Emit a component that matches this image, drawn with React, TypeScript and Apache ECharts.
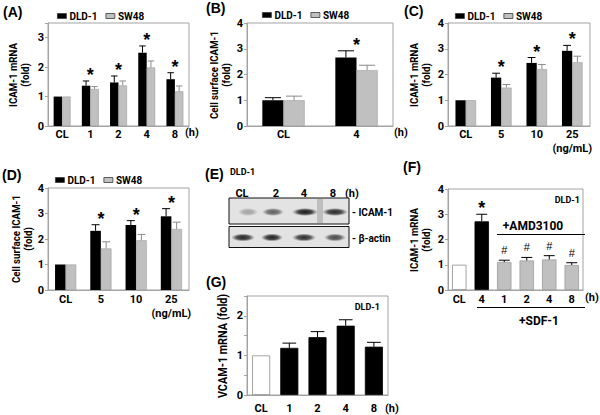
import React, { useEffect, useRef } from 'react';
import * as echarts from 'echarts';

// ---------- data ----------
const legendNames = ['DLD-1', 'SW48'];

// (A) ICAM-1 mRNA, time course (h)
const aCats = ['CL', '1', '2', '4', '8'];
const aDld = [1.0, 1.37, 1.48, 2.49, 1.59];
const aDldErr = [null, 1.53, 1.7, 2.72, 1.81];
const aSw = [1.0, 1.26, 1.38, 1.99, 1.18];
const aSwErr = [null, 1.34, 1.53, 2.21, 1.36];
const aSig = ['', '*', '*', '*', '*'];

// (B) Cell surface ICAM-1
const bCats = ['CL', '4'];
const bDld = [1.0, 2.66];
const bDldErr = [1.1, 2.92];
const bSw = [1.0, 2.17];
const bSwErr = [1.16, 2.36];
const bSig = ['', '*'];

// (C) ICAM-1 mRNA, dose (ng/mL)
const cCats = ['CL', '5', '10', '25'];
const cDld = [1.0, 1.88, 2.45, 2.92];
const cDldErr = [null, 2.05, 2.66, 3.13];
const cSw = [1.0, 1.49, 2.21, 2.48];
const cSwErr = [null, 1.61, 2.39, 2.71];
const cSig = ['', '*', '*', '*'];

// (D) Cell surface ICAM-1, dose (ng/mL)
const dCats = ['CL', '5', '10', '25'];
const dDld = [1.0, 2.32, 2.55, 2.89];
const dDldErr = [null, 2.56, 2.72, 3.19];
const dSw = [1.0, 1.63, 1.95, 2.39];
const dSwErr = [null, 1.89, 2.18, 2.66];
const dSig = ['', '*', '*', '*'];

// (E) western blot band intensities (0..1)
const blotLanes = ['CL', '2', '4', '8'];
const icamBand = [0.3, 0.62, 0.95, 0.88];
const actinBand = [0.9, 0.92, 0.86, 0.72];

// (F) ICAM-1 mRNA with AMD3100
const fCats = ['CL', '4', '1', '2', '4', '8'];
const fVals = [1.0, 2.72, 1.11, 1.17, 1.21, 0.99];
const fErr = [null, 3.0, 1.18, 1.29, 1.36, 1.08];
const fMarks = ['', '*', '#', '#', '#', '#'];

// (G) VCAM-1 mRNA
const gCats = ['CL', '1', '2', '4', '8'];
const gVals = [1.0, 1.19, 1.46, 1.75, 1.22];
const gErr = [null, 1.31, 1.6, 1.9, 1.33];

const unitH = '(h)';
const unitDose = '(ng/mL)';

// ---------- styles ----------
const FRAME = '#a3a3a3';
const FONT = 'Roboto';
const BLACK = '#000000';
const GRAY = '#c0c0c0';
const fColors = ['#ffffff', BLACK, GRAY, GRAY, GRAY, GRAY];
const gColors = ['#ffffff', BLACK, BLACK, BLACK, BLACK];

const grids = [
  { left: 48, top: 23, width: 141, height: 103 }, // A
  { left: 247, top: 23, width: 146, height: 103 }, // B
  { left: 448, top: 23, width: 142, height: 103 }, // C
  { left: 48, top: 188, width: 141, height: 102 }, // D
  { left: 448, top: 189, width: 135, height: 101 }, // F
  { left: 247, top: 296, width: 141, height: 101 }, // G
];

function yAx(gi: number, max: number, interval: number) {
  return {
    type: 'value',
    gridIndex: gi,
    min: 0,
    max,
    interval,
    axisLine: { show: true, lineStyle: { color: FRAME, width: 1 } },
    axisTick: { show: true, length: 3, lineStyle: { color: FRAME } },
    splitLine: { show: false },
    axisLabel: {
      color: '#000',
      fontFamily: FONT,
      fontWeight: 'bold',
      fontSize: 11,
      margin: 4,
      formatter: (v: number) => (Math.abs(v - Math.round(v)) < 1e-6 ? String(Math.round(v)) : ''),
    },
  };
}

function xAx(gi: number, cats: string[], margin: number, unitBelow?: string) {
  return {
    type: 'category',
    gridIndex: gi,
    data: cats,
    axisLine: { show: true, lineStyle: { color: FRAME, width: 1 } },
    axisTick: { show: false },
    axisLabel: {
      color: '#000',
      fontFamily: FONT,
      fontWeight: 'bold',
      fontSize: 11,
      margin,
      interval: 0,
      lineHeight: 14,
      formatter: (v: string, i: number) => (unitBelow && i === cats.length - 1 ? `${v}\n${unitBelow}` : v),
    },
  };
}

function markText(m: string, x: number, topY: number) {
  if (m === '*') {
    return {
      type: 'text',
      x,
      y: topY - 10 + 4,
      style: { text: '*', fontFamily: 'Liberation Sans', fontWeight: 'bold', fontSize: 18, fill: '#000', align: 'center', verticalAlign: 'middle' },
    };
  }
  return {
    type: 'text',
    x,
    y: topY - 11 + 1,
    style: { text: m, fontFamily: 'Liberation Sans', fontSize: 11, fill: '#000', align: 'center', verticalAlign: 'middle' },
  };
}

function errSeries(
  gi: number,
  vals: number[],
  errs: (number | null)[],
  shift: number,
  color: string,
  barFrac: number,
  marks: string[] | null,
  markAtCenter: boolean
) {
  return {
    type: 'custom',
    xAxisIndex: gi,
    yAxisIndex: gi,
    silent: true,
    z: 5,
    data: vals.map((v, i) => [i, v]),
    renderItem: (params: any, api: any) => {
      const k = params.dataIndex;
      const band = api.size([1, 0])[0];
      const pt = api.coord([k, vals[k]]);
      const x0 = pt[0];
      const yv = pt[1];
      const cx = x0 + shift * band;
      const capHalf = band * barFrac * 0.38;
      const children: any[] = [];
      let topY = yv;
      const e = errs[k];
      if (e != null) {
        const ye = api.coord([k, e])[1];
        topY = ye;
        children.push({ type: 'line', shape: { x1: cx, y1: yv, x2: cx, y2: ye }, style: { stroke: color, lineWidth: 1 } });
        children.push({ type: 'line', shape: { x1: cx - capHalf, y1: ye, x2: cx + capHalf, y2: ye }, style: { stroke: color, lineWidth: 1 } });
      }
      const m = marks ? marks[k] : '';
      if (m) children.push(markText(m, markAtCenter ? x0 : cx, topY));
      return { type: 'group', children };
    },
  };
}

function groupedSeries(
  gi: number,
  dld: number[],
  dldErr: (number | null)[],
  sw: number[],
  swErr: (number | null)[],
  sig: string[],
  barFrac: number
) {
  return [
    {
      type: 'bar',
      name: legendNames[0],
      xAxisIndex: gi,
      yAxisIndex: gi,
      data: dld,
      barWidth: `${barFrac * 100}%`,
      barGap: '0%',
      itemStyle: { color: BLACK },
    },
    {
      type: 'bar',
      name: legendNames[1],
      xAxisIndex: gi,
      yAxisIndex: gi,
      data: sw,
      barWidth: `${barFrac * 100}%`,
      barGap: '0%',
      itemStyle: { color: GRAY, borderColor: '#9c9c9c', borderWidth: 0.6 },
    },
    errSeries(gi, dld, dldErr, -barFrac / 2, BLACK, barFrac, sig, true),
    errSeries(gi, sw, swErr, barFrac / 2, '#8a8a8a', barFrac, null, true),
  ];
}

function singleSeries(gi: number, name: string, vals: number[], errs: (number | null)[], colors: string[], marks: string[] | null, barFrac: number) {
  return [
    {
      type: 'bar',
      name,
      xAxisIndex: gi,
      yAxisIndex: gi,
      barWidth: `${barFrac * 100}%`,
      data: vals.map((v, i) => ({
        value: v,
        itemStyle: { color: colors[i], borderColor: colors[i] === '#ffffff' ? '#8c8c8c' : colors[i] === GRAY ? '#9c9c9c' : colors[i], borderWidth: 0.8 },
      })),
    },
    errSeries(gi, vals, errs, 0, BLACK, barFrac, marks, false),
  ];
}

function legendAt(left: number, top: number) {
  return {
    data: legendNames,
    left,
    top,
    padding: 0,
    itemGap: 8,
    itemWidth: 9,
    itemHeight: 5,
    icon: 'rect',
    selectedMode: false,
    itemStyle: { borderColor: '#3a3a3a', borderWidth: 0.8 },
    textStyle: { fontFamily: FONT, fontWeight: 'bold', fontSize: 10, color: '#000', padding: [0, 0, 0, -2] },
  };
}

function title(text: string, x: number, y: number) {
  return {
    type: 'text',
    x,
    y,
    style: { text, fontFamily: 'Liberation Sans', fontWeight: 'bold', fontSize: 14, fill: '#000', verticalAlign: 'top' },
  };
}

function yName(text: string, x: number, y: number, size: number, sx = 0.88) {
  return {
    type: 'text',
    x,
    y,
    rotation: Math.PI / 2,
    scaleX: sx,
    style: { text, fontFamily: FONT, fontWeight: 'bold', fontSize: size, lineHeight: 12, fill: '#000', align: 'center', verticalAlign: 'middle' },
  };
}

function plainText(text: string, x: number, y: number, size: number, align = 'left', weight = 'bold') {
  return {
    type: 'text',
    x,
    y,
    style: { text, fontFamily: FONT, fontWeight: weight, fontSize: size, fill: '#000', align, verticalAlign: 'middle' },
  };
}

function bandGradient(a: number) {
  return new echarts.graphic.RadialGradient(0.5, 0.5, 0.5, [
    { offset: 0, color: `rgba(15,15,15,${a})` },
    { offset: 0.55, color: `rgba(35,35,35,${a * 0.85})` },
    { offset: 1, color: 'rgba(80,80,80,0)' },
  ]);
}

function blotGraphics() {
  const els: any[] = [];
  const laneLabelX = [242, 276, 304, 333];
  blotLanes.forEach((l, i) => els.push(plainText(l, laneLabelX[i], 193, 11, 'center')));
  els.push(plainText(unitH, 345, 193, 11, 'left'));
  // boxes
  els.push({ type: 'rect', shape: { x: 229, y: 198, width: 120, height: 26 }, style: { fill: '#e3e3e3', stroke: '#111', lineWidth: 1 } });
  els.push({ type: 'rect', shape: { x: 229, y: 226.5, width: 120, height: 21 }, style: { fill: '#e3e3e3', stroke: '#111', lineWidth: 1 } });
  // vertical smear in upper blot
  els.push({ type: 'rect', shape: { x: 317, y: 199, width: 6, height: 24 }, style: { fill: 'rgba(120,120,120,0.35)' } });
  const icamX = [248, 273, 305, 335];
  const icamRx = [10, 11, 13, 13];
  const actinX = [243, 272, 304, 335];
  const actinRx = [12, 11, 12, 11];
  icamBand.forEach((a, i) =>
    els.push({ type: 'ellipse', shape: { cx: icamX[i], cy: 212, rx: icamRx[i], ry: 4 }, style: { fill: bandGradient(a) } })
  );
  actinBand.forEach((a, i) =>
    els.push({ type: 'ellipse', shape: { cx: actinX[i], cy: 237.5, rx: actinRx[i], ry: 4 }, style: { fill: bandGradient(a) } })
  );
  els.push(plainText('- ICAM-1', 352, 212, 10));
  els.push(plainText('- \u03b2-actin', 352, 238, 10));
  els.push(plainText('DLD-1', 230, 172, 9));
  return els;
}

function buildOption() {
  const series: any[] = [
    ...groupedSeries(0, aDld, aDldErr, aSw, aSwErr, aSig, 0.3),
    ...groupedSeries(1, bDld, bDldErr, bSw, bSwErr, bSig, 0.29),
    ...groupedSeries(2, cDld, cDldErr, cSw, cSwErr, cSig, 0.29),
    ...groupedSeries(3, dDld, dDldErr, dSw, dSwErr, dSig, 0.3),
    ...singleSeries(4, 'F', fVals, fErr, fColors, fMarks, 0.64),
    ...singleSeries(5, 'G', gVals, gErr, gColors, null, 0.64),
  ];
  const graphic: any[] = [
    title('(A)', 3, 5),
    title('(B)', 206, 1),
    title('(C)', 404, 4),
    title('(D)', 2, 168),
    title('(E)', 205, 167),
    title('(F)', 403, 160),
    title('(G)', 206, 275),
    yName('ICAM-1 mRNA\n(fold)', 19, 75, 11),
    yName('Cell surface ICAM-1\n(fold)', 220, 75, 11),
    yName('ICAM-1 mRNA\n(fold)', 420, 75, 11),
    yName('Cell surface ICAM-1\n(fold)', 22, 239, 11),
    yName('ICAM-1 mRNA\n(fold)', 420, 240, 11),
    yName('VCAM-1 mRNA (fold)', 223, 346, 12, 0.9),
    plainText(unitH, 185, 132, 11),
    plainText(unitH, 394, 132, 11),
    plainText(unitH, 585, 297, 11),
    plainText(unitH, 385, 408, 11),
    plainText('DLD-1', 580, 200, 9, 'right'),
    plainText('DLD-1', 380, 307, 9, 'right'),
    // AMD3100 bracket
    plainText('+AMD3100', 533, 226, 12, 'center'),
    { type: 'line', shape: { x1: 497, y1: 234.5, x2: 585, y2: 234.5 }, style: { stroke: '#000', lineWidth: 1 } },
    // SDF-1 bracket
    { type: 'line', shape: { x1: 477, y1: 307.5, x2: 585, y2: 307.5 }, style: { stroke: '#000', lineWidth: 1 } },
    plainText('+SDF-1', 539, 321, 12, 'center'),
    ...blotGraphics(),
  ];
  return {
    animation: false,
    backgroundColor: '#ffffff',
    textStyle: { fontFamily: FONT },
    grid: grids.map((g) => ({ ...g, show: true, borderColor: FRAME, borderWidth: 1, backgroundColor: 'transparent', containLabel: false })),
    legend: [legendAt(57, 11), legendAt(262, 10), legendAt(455, 11), legendAt(55, 175)],
    xAxis: [
      xAx(0, aCats, 1),
      xAx(1, bCats, 1),
      xAx(2, cCats, 1, unitDose),
      xAx(3, dCats, 2, unitDose),
      xAx(4, fCats, 2),
      xAx(5, gCats, 6),
    ],
    yAxis: [yAx(0, 3.5, 1), yAx(1, 4, 1), yAx(2, 4, 1), yAx(3, 4, 1), yAx(4, 4, 1), yAx(5, 2.5, 0.5)],
    series,
    graphic,
  };
}

export default function App() {
  const ref = useRef<HTMLDivElement>(null);
  useEffect(() => {
    const chart = echarts.init(ref.current!, null, { renderer: 'svg' });
    chart.setOption(buildOption() as any);
    return () => chart.dispose();
  }, []);
  return (
    <div
      ref={ref}
      style={{ position: 'absolute', left: 0, top: 0, width: 600, height: 415, background: '#fff' }}
    />
  );
}
